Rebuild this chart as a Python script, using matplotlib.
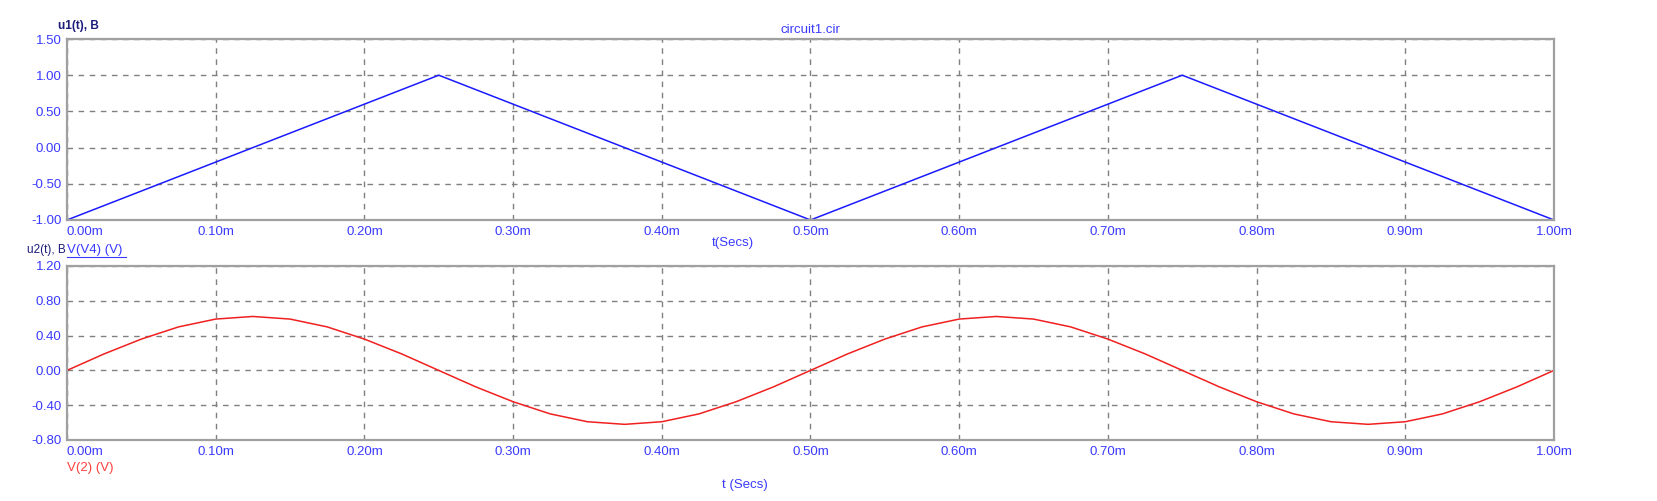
import matplotlib
matplotlib.use('Agg')
import matplotlib.pyplot as plt

plt.rcParams['font.family'] = ['Liberation Sans', 'DejaVu Sans']

# time axis in ms (labels carry the "m")
t_tri = [0.0, 0.25, 0.5, 0.75, 1.0]
u1 = [-1.0, 1.0, -1.0, 1.0, -1.0]

t_sin = [0.000, 0.025, 0.050, 0.075, 0.100, 0.125, 0.150, 0.175, 0.200, 0.225,
         0.250, 0.275, 0.300, 0.325, 0.350, 0.375, 0.400, 0.425, 0.450, 0.475,
         0.500, 0.525, 0.550, 0.575, 0.600, 0.625, 0.650, 0.675, 0.700, 0.725,
         0.750, 0.775, 0.800, 0.825, 0.850, 0.875, 0.900, 0.925, 0.950, 0.975,
         1.000]
u2 = [0.00, 0.19, 0.36, 0.50, 0.59, 0.62, 0.59, 0.50, 0.36, 0.19,
      0.00, -0.19, -0.36, -0.50, -0.59, -0.62, -0.59, -0.50, -0.36, -0.19,
      0.00, 0.19, 0.36, 0.50, 0.59, 0.62, 0.59, 0.50, 0.36, 0.19,
      0.00, -0.19, -0.36, -0.50, -0.59, -0.62, -0.59, -0.50, -0.36, -0.19,
      0.00]

x_ticks = [0.0, 0.1, 0.2, 0.3, 0.4, 0.5, 0.6, 0.7, 0.8, 0.9, 1.0]
x_labels = ['%.2fm' % v for v in x_ticks]
y1_ticks = [-1.0, -0.5, 0.0, 0.5, 1.0, 1.5]
y2_ticks = [-0.8, -0.4, 0.0, 0.4, 0.8, 1.2]

TICK_C = '#3a3aff'
NAVY = '#1c1c7a'
SPINE_C = '#a0a0a0'
GRID_C = '#808080'

fig = plt.figure(figsize=(16.58, 5.01), dpi=100)
W, H = 1658.0, 501.0
L, R = 67, 1554
ax1 = fig.add_axes([L / W, 1 - 220 / H, (R - L) / W, (220 - 39) / H])
ax2 = fig.add_axes([L / W, 1 - 440 / H, (R - L) / W, (440 - 266) / H])


def style(ax, yt, fmt):
    ax.set_xlim(0, 1.0)
    ax.set_ylim(yt[0], yt[-1])
    ax.set_xticks(x_ticks)
    ax.set_xticklabels(x_labels)
    ax.set_yticks(yt)
    ax.set_yticklabels([fmt % v for v in yt])
    ax.tick_params(length=0, labelsize=9.5, labelcolor=TICK_C, pad=4)
    ax.get_xticklabels()[0].set_ha('left')
    for s in ax.spines.values():
        s.set_color(SPINE_C)
        s.set_linewidth(1.6)
    ax.grid(True, color=GRID_C, linestyle=(0, (4, 4)), linewidth=1.0)
    ax.set_axisbelow(True)


ax1.plot(t_tri, u1, color='#1a1aff', lw=1.1)
style(ax1, y1_ticks, '%.2f')
ax2.plot(t_sin, u2, color='#f02020', lw=1.1)
style(ax2, y2_ticks, '%.2f')

fig.text(0.5 * (L + R) / W, 1 - 30 / H, 'circuit1.cir', color='#3a3aff',
         fontsize=9.5, ha='center', va='center')
fig.text(58 / W, 1 - 26 / H, 'u1(t), B', color=NAVY, fontsize=8.5,
         fontweight='bold', ha='left', va='center')
fig.text(733 / W, 1 - 243 / H, 't(Secs)', color=TICK_C, fontsize=9.5,
         ha='center', va='center')
fig.text(66 / W, 1 - 250 / H, 'u2(t), B', color=NAVY, fontsize=8.5,
         ha='right', va='center')
fig.text(L / W, 1 - 250 / H, 'V(V4) (V)', color=TICK_C, fontsize=9.5,
         ha='left', va='center')
fig.add_artist(plt.Line2D([L / W, 126 / W], [1 - 257 / H, 1 - 257 / H],
                          color=TICK_C, lw=0.8))
fig.text(L / W, 1 - 468 / H, 'V(2) (V)', color='#ff4040', fontsize=9.5,
         ha='left', va='center')
fig.text(745 / W, 1 - 485 / H, 't (Secs)', color=TICK_C, fontsize=9.5,
         ha='center', va='center')

fig.savefig('out.png', dpi=100)
